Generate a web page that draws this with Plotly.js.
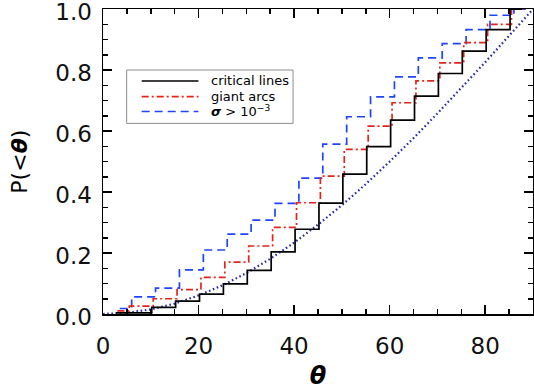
<!DOCTYPE html>
<html>
<head>
<meta charset="utf-8">
<script src="https://cdn.plot.ly/plotly-3.0.1.min.js"></script>
<style>html,body{margin:0;padding:0;background:#fff;}#chart{width:534px;height:390px;}</style>
</head>
<body>
<div id="chart"></div>
<script>
// Bin edges (degrees) of the cumulative histograms
const binEdges = [2.5, 5, 10, 15, 20, 25, 30, 35, 40, 45, 50, 55, 60, 65, 70, 75, 80, 85, 87.5];
// Small horizontal shift used in the original plot to separate the curves
const shiftCritical = 0.2;
const shiftArcs = 0.5;
const shiftSigma = 1.0;
// Cumulative fractions P(<theta), one per interval
const critical = [0.004, 0.004, 0.022, 0.042, 0.065, 0.099, 0.143, 0.204, 0.278, 0.364, 0.459, 0.549, 0.636, 0.715, 0.789, 0.862, 0.933, 1.0];
const arcs     = [0.010, 0.026, 0.050, 0.080, 0.120, 0.170, 0.223, 0.284, 0.365, 0.452, 0.540, 0.616, 0.693, 0.765, 0.824, 0.890, 0.950, 1.0];
const sigma    = [0.018, 0.056, 0.085, 0.145, 0.210, 0.262, 0.308, 0.363, 0.446, 0.557, 0.647, 0.712, 0.778, 0.840, 0.887, 0.933, 0.980, 1.0];
// Isotropic reference curve (dotted)
const thetaRef = [0, 5, 10, 15, 20, 25, 30, 35, 40, 45, 50, 55, 60, 65, 70, 75, 80, 85, 90];
const isoRef   = [0, 0.004, 0.015, 0.034, 0.061, 0.094, 0.134, 0.181, 0.234, 0.293, 0.357, 0.426, 0.500, 0.577, 0.658, 0.741, 0.826, 0.913, 1.0];
// Labels
const names = ['critical lines', 'giant arcs', '<b><i>σ</i></b> > 10<sup>−3</sup>'];
const xTicks = [0, 20, 40, 60, 80];
const yTicks = [0.0, 0.2, 0.4, 0.6, 0.8, 1.0];
const xTitle = '<b><i>θ</i></b>';
const yTitle = 'P(&lt;<b><i>θ</i></b>)';

function stepX(shift) { return binEdges.map(e => e + shift); }
function stepY(v) { return v.concat([v[v.length - 1]]); }

const FONT = 'DejaVu Sans';
const cBlack = '#000000', cRed = '#e3241c', cBlue = '#1f44ff', cNavy = '#2a2aa6';

const traces = [
  {x: thetaRef, y: isoRef, mode: 'lines', name: 'isotropic',
   line: {color: cNavy, width: 2.2, dash: '1.6px,2.6px'}, showlegend: false},
  {x: stepX(shiftSigma), y: stepY(sigma), mode: 'lines', name: names[2],
   line: {color: cBlue, width: 1.7, shape: 'hv', dash: '8px,5px'}, showlegend: false},
  {x: stepX(shiftArcs), y: stepY(arcs), mode: 'lines', name: names[1],
   line: {color: cRed, width: 1.7, shape: 'hv', dash: '7px,3px,2px,3px'}, showlegend: false},
  {x: stepX(shiftCritical), y: stepY(critical), mode: 'lines', name: names[0],
   line: {color: cBlack, width: 1.7, shape: 'hv'}, showlegend: false}
];

// Hand-built legend box (paper coordinates)
const legRows = [0.764, 0.713, 0.664];
const legStyles = [
  {color: cBlack, width: 1.7, dash: 'solid'},
  {color: cRed, width: 1.7, dash: '7px,3px,2px,3px'},
  {color: cBlue, width: 1.7, dash: '8px,5px'}
];
const shapes = [{type: 'rect', xref: 'paper', yref: 'paper', x0: 0.055, x1: 0.442, y0: 0.625, y1: 0.80,
  line: {color: '#8c8c8c', width: 1}, fillcolor: 'rgba(255,255,255,0)'}];
const annotations = [];
legRows.forEach((r, i) => {
  shapes.push({type: 'line', xref: 'paper', yref: 'paper', x0: 0.09, x1: 0.222, y0: r, y1: r, line: legStyles[i]});
  annotations.push({xref: 'paper', yref: 'paper', x: 0.2456, y: r, xanchor: 'left', yanchor: 'middle',
    text: names[i], showarrow: false, font: {family: FONT, size: 13, color: '#000'}});
});
// y-axis title (fixed box so its centring does not depend on text measurement)
annotations.push({xref: 'paper', yref: 'paper', x: -0.195, y: 0.5, xanchor: 'center', yanchor: 'middle',
  width: 90, height: 30, align: 'center', valign: 'middle',
  textangle: -90, text: yTitle, showarrow: false, font: {family: FONT, size: 22, color: '#000'}});

const axisCommon = {
  showline: true, linecolor: '#000', linewidth: 1.5, mirror: 'ticks',
  ticks: 'inside', ticklen: 9, tickwidth: 1.5, tickcolor: '#000',
  showgrid: false, zeroline: false, automargin: false, ticklabeloverflow: 'allow',
  tickfont: {family: FONT, size: 23, color: '#111'}
};

const layout = {
  width: 534, height: 390,
  margin: {l: 103, r: 1, t: 9, b: 76},
  paper_bgcolor: '#fff', plot_bgcolor: '#fff',
  font: {family: FONT, color: '#000'},
  showlegend: false,
  xaxis: Object.assign({}, axisCommon, {
    range: [0, 90], tickvals: xTicks, ticklabelstandoff: 11,
    minor: {dtick: 5, tick0: 0, ticks: 'inside', ticklen: 5, tickwidth: 1.5, tickcolor: '#000'},
    title: {text: xTitle, font: {family: FONT, size: 24, color: '#000'}, standoff: 12}
  }),
  yaxis: Object.assign({}, axisCommon, {
    range: [0, 1.0005], tickvals: yTicks, tickformat: '.1f', ticklabelstandoff: 5, ticklabelshift: 3,
    minor: {dtick: 0.05, tick0: 0, ticks: 'inside', ticklen: 5, tickwidth: 1.5, tickcolor: '#000'}
  }),
  shapes: shapes,
  annotations: annotations
};

Plotly.newPlot('chart', traces, layout, {displayModeBar: false, staticPlot: true});
</script>
</body>
</html>
